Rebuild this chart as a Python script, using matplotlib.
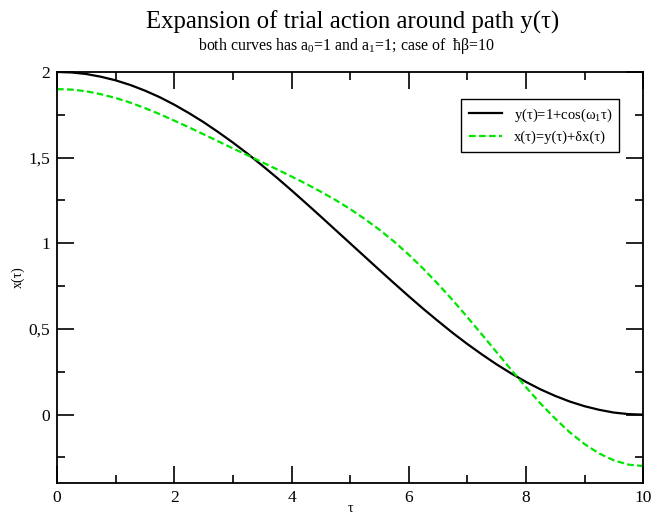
import matplotlib
matplotlib.use("Agg")
import matplotlib.pyplot as plt
from matplotlib.ticker import MultipleLocator, FuncFormatter

plt.rcParams["font.family"] = ["Liberation Serif", "DejaVu Serif"]
plt.rcParams["mathtext.fontset"] = "custom"
plt.rcParams["mathtext.rm"] = "Liberation Serif"
plt.rcParams["mathtext.it"] = "Liberation Serif:italic"

# values, tau step 0.25
tau = [0, 0.25, 0.5, 0.75, 1, 1.25, 1.5, 1.75, 2, 2.25, 2.5, 2.75, 3, 3.25, 3.5, 3.75,
       4, 4.25, 4.5, 4.75, 5, 5.25, 5.5, 5.75, 6, 6.25, 6.5, 6.75, 7, 7.25, 7.5, 7.75,
       8, 8.25, 8.5, 8.75, 9, 9.25, 9.5, 9.75, 10]
y_path = [2.000, 1.997, 1.988, 1.972, 1.951, 1.924, 1.891, 1.853, 1.809, 1.760,
          1.707, 1.649, 1.588, 1.523, 1.454, 1.383, 1.309, 1.233, 1.156, 1.078,
          1.000, 0.922, 0.844, 0.767, 0.691, 0.617, 0.546, 0.477, 0.412, 0.351,
          0.293, 0.240, 0.191, 0.147, 0.109, 0.076, 0.049, 0.028, 0.012, 0.003, 0.000]
x_trial = [1.900, 1.897, 1.887, 1.870, 1.848, 1.821, 1.789, 1.754, 1.716, 1.677,
           1.636, 1.595, 1.554, 1.514, 1.473, 1.432, 1.390, 1.347, 1.301, 1.253,
           1.200, 1.142, 1.079, 1.010, 0.934, 0.851, 0.762, 0.668, 0.569, 0.467,
           0.364, 0.261, 0.160, 0.064, -0.024, -0.104, -0.172, -0.227, -0.267, -0.292, -0.300]

labels = ["y(τ)=1+cos(ω$_1$τ)", "x(τ)=y(τ)+δx(τ)"]

fig = plt.figure(figsize=(6.52, 5.14), dpi=100)
ax = fig.add_axes([0.0875, 0.06, 0.899, 0.80])

ax.plot(tau, y_path, color="black", lw=1.6, label=labels[0])
ax.plot(tau, x_trial, color="#00e600", lw=1.6, ls=(0, (3, 1.5)), label=labels[1])

ax.set_xlim(0, 10)
ax.set_ylim(-0.4, 2)
ax.xaxis.set_major_locator(MultipleLocator(2))
ax.xaxis.set_minor_locator(MultipleLocator(1))
ax.yaxis.set_major_locator(MultipleLocator(0.5))
ax.yaxis.set_minor_locator(MultipleLocator(0.25))
ax.yaxis.set_major_formatter(FuncFormatter(lambda v, p: ("%g" % v).replace(".", ",")))
ax.tick_params(which="both", direction="in", top=True, right=True, width=1.2, labelsize=12.5)
ax.tick_params(which="major", length=12, pad=5)
ax.tick_params(which="minor", length=6)
for s in ax.spines.values():
    s.set_linewidth(1.3)

ax.set_xlabel("τ", fontsize=10)
ax.xaxis.set_label_coords(0.5, -0.045)
ax.set_ylabel("x(τ)", fontsize=10)
ax.yaxis.set_label_coords(-0.055, 0.5)

fig.text(0.541, 0.957, "Expansion of trial action around path y(τ)", ha="center", va="center", fontsize=17.8)
fig.text(0.532, 0.911, "both curves has a$_0$=1 and a$_1$=1; case of  ħβ=10", ha="center", va="center", fontsize=11.4)

leg = ax.legend(loc="upper right", bbox_to_anchor=(0.972, 0.952), fontsize=10.5, fancybox=False,
                edgecolor="black", framealpha=1, handlelength=2.3, borderpad=0.5)
leg.get_frame().set_linewidth(1.0)

fig.savefig("out.png", dpi=100)
